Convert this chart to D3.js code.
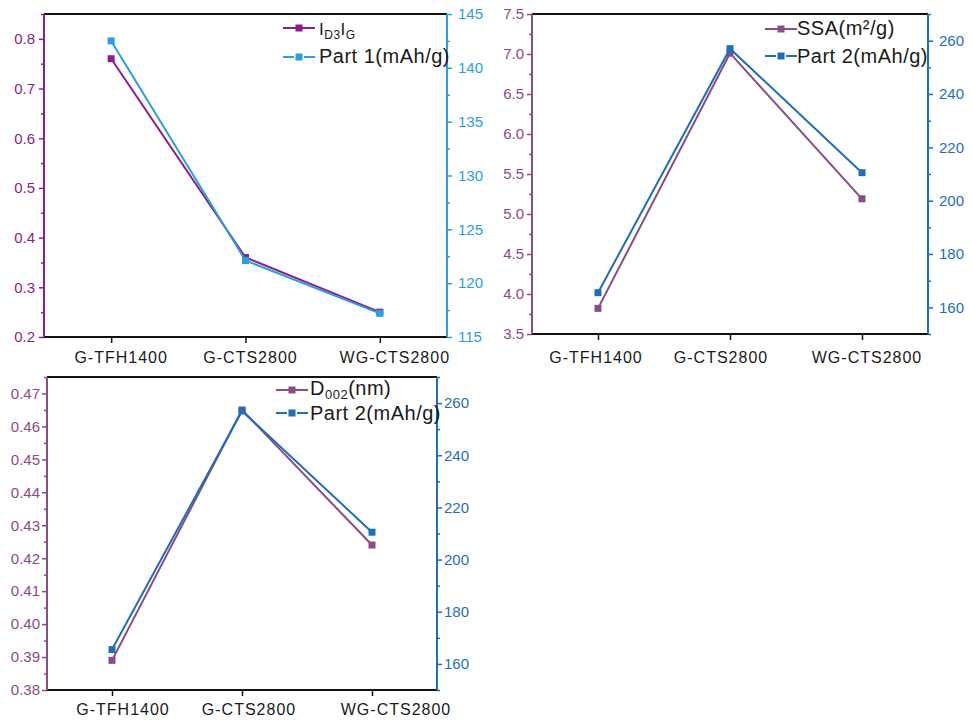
<!DOCTYPE html>
<html>
<head>
<meta charset="utf-8">
<script src="https://cdn.jsdelivr.net/npm/d3@7"></script>
<style>
  html, body { margin: 0; padding: 0; background: #fff; }
  svg { display: block; font-family: "Liberation Sans", Arial, sans-serif; }
</style>
</head>
<body>
<svg id="chart" width="972" height="723"></svg>
<script>
// ---------------- data ----------------
const categories = ["G-TFH1400", "G-CTS2800", "WG-CTS2800"];

const idIg  = [0.76, 0.36, 0.25];
const part1 = [142.5, 122.1, 117.2];

const ssa   = [3.82, 7.01, 5.19];
const part2 = [165.5, 257.0, 210.5];

const d002  = [0.389, 0.465, 0.424];

const leftTicks1  = [0.2, 0.3, 0.4, 0.5, 0.6, 0.7, 0.8];
const rightTicks1 = [115, 120, 125, 130, 135, 140, 145];
const leftTicks2  = [3.5, 4.0, 4.5, 5.0, 5.5, 6.0, 6.5, 7.0, 7.5];
const rightTicks2 = [160, 180, 200, 220, 240, 260];
const leftTicks3  = [0.38, 0.39, 0.40, 0.41, 0.42, 0.43, 0.44, 0.45, 0.46, 0.47];
const rightTicks3 = [160, 180, 200, 220, 240, 260];

// ---------------- panels ----------------
const panels = [
  {
    box: {left: 44, right: 447, top: 14, bottom: 337},
    leftDomain: [0.2, 0.85], rightDomain: [115, 145],
    leftTicks: leftTicks1, rightTicks: rightTicks1,
    leftMinorStep: 0.05, rightMinorStep: 2.5,
    leftFmt: d3.format(".1f"), rightFmt: d3.format("d"),
    leftSeries: idIg, rightSeries: part1,
    leftColor: "#8c1d8a", rightColor: "#2a9fdb",
    leftPad: 4, rightPad: 6,
    labelDx: [10, 5, 15], labelBaseline: 26,
    legend: {lineX: 283, textX: 319, y1: 28, y2: 57, base1: 35, base2: 63},
    leftLabel: [{t: "I", size: 17}, {t: "D3", size: 12, sub: true}, {t: "I", size: 17}, {t: "G", size: 12, sub: true}],
    rightLabel: "Part 1(mAh/g)"
  },
  {
    box: {left: 532, right: 928, top: 14, bottom: 334},
    leftDomain: [3.5, 7.5], rightDomain: [150, 270],
    leftTicks: leftTicks2, rightTicks: rightTicks2,
    leftMinorStep: 0.25, rightMinorStep: 10,
    leftFmt: d3.format(".1f"), rightFmt: d3.format("d"),
    leftSeries: ssa, rightSeries: part2,
    leftColor: "#8a4c85", rightColor: "#1f6eb6",
    leftPad: 3, rightPad: 6,
    labelDx: [-2, -9, 5], labelBaseline: 29,
    legend: {lineX: 765, textX: 797, y1: 29, y2: 56, base1: 35, base2: 63},
    leftLabel: [{t: "SSA(m²/g)", size: 20}],
    rightLabel: "Part 2(mAh/g)"
  },
  {
    box: {left: 47, right: 437, top: 377, bottom: 690},
    leftDomain: [0.38, 0.475], rightDomain: [150, 270],
    leftTicks: leftTicks3, rightTicks: rightTicks3,
    leftMinorStep: 0.005, rightMinorStep: 10,
    leftFmt: d3.format(".2f"), rightFmt: d3.format("d"),
    leftSeries: d002, rightSeries: part2,
    leftColor: "#8a4c85", rightColor: "#1f6eb6",
    leftPad: 2, rightPad: 2,
    labelDx: [11, 7, 24], labelBaseline: 25,
    legend: {lineX: 276, textX: 310, y1: 390, y2: 413, base1: 395, base2: 420},
    leftLabel: [{t: "D", size: 20}, {t: "002", size: 13, sub: true}, {t: "(nm)", size: 20}],
    rightLabel: "Part 2(mAh/g)"
  }
];

const svg = d3.select("#chart");

function minorValues(domain, step, majors) {
  const out = [];
  const n = Math.round((domain[1] - domain[0]) / step);
  for (let i = 0; i <= n; i++) {
    const v = +(domain[0] + i * step).toFixed(6);
    if (!majors.some(m => Math.abs(m - v) < step / 10)) out.push(v);
  }
  return out;
}

panels.forEach(p => {
  const b = p.box;
  const g = svg.append("g");

  const x = d3.scalePoint().domain(categories).range([b.left, b.right]).padding(0.5);
  const yL = d3.scaleLinear().domain(p.leftDomain).range([b.bottom, b.top]);
  const yR = d3.scaleLinear().domain(p.rightDomain).range([b.bottom, b.top]);

  // top frame line
  g.append("line")
    .attr("x1", b.left).attr("x2", b.right)
    .attr("y1", b.top).attr("y2", b.top)
    .attr("stroke", "#111").attr("stroke-width", 2);

  // bottom axis
  const xAxis = g.append("g").attr("transform", `translate(0,${b.bottom})`)
    .call(d3.axisBottom(x).tickSize(6).tickFormat(""));
  xAxis.select(".domain").attr("stroke", "#111").attr("stroke-width", 2)
    .attr("d", `M${b.left},0H${b.right}`);
  xAxis.selectAll(".tick line").attr("stroke", "#111").attr("stroke-width", 1.5);

  g.selectAll("text.xlab").data(categories).join("text")
    .attr("class", "xlab")
    .attr("x", (d, i) => x(d) + p.labelDx[i])
    .attr("y", b.bottom + p.labelBaseline)
    .attr("text-anchor", "middle")
    .attr("font-size", 16)
    .attr("letter-spacing", 1)
    .attr("fill", "#1a1a1a")
    .text(d => d);

  // left axis
  const la = g.append("g").attr("transform", `translate(${b.left},0)`)
    .call(d3.axisLeft(yL).tickValues(p.leftTicks).tickFormat(p.leftFmt).tickSize(5).tickPadding(p.leftPad));
  la.select(".domain").attr("stroke", p.leftColor).attr("stroke-width", 2)
    .attr("d", `M0,${b.top}V${b.bottom}`);
  la.selectAll(".tick line").attr("stroke", p.leftColor).attr("stroke-width", 1.5);
  la.selectAll(".tick text").attr("fill", p.leftColor).attr("font-size", 15)
    .attr("font-family", "Liberation Sans, Arial, sans-serif");
  const lm = g.append("g").attr("transform", `translate(${b.left},0)`)
    .call(d3.axisLeft(yL).tickValues(minorValues(p.leftDomain, p.leftMinorStep, p.leftTicks)).tickFormat("").tickSize(3));
  lm.select(".domain").remove();
  lm.selectAll(".tick line").attr("stroke", p.leftColor).attr("stroke-width", 1.5);

  // right axis
  const ra = g.append("g").attr("transform", `translate(${b.right},0)`)
    .call(d3.axisRight(yR).tickValues(p.rightTicks).tickFormat(p.rightFmt).tickSize(5).tickPadding(p.rightPad));
  ra.select(".domain").attr("stroke", p.rightColor).attr("stroke-width", 2)
    .attr("d", `M0,${b.top}V${b.bottom}`);
  ra.selectAll(".tick line").attr("stroke", p.rightColor).attr("stroke-width", 1.5);
  ra.selectAll(".tick text").attr("fill", p.rightColor).attr("font-size", 15)
    .attr("font-family", "Liberation Sans, Arial, sans-serif");
  const rm = g.append("g").attr("transform", `translate(${b.right},0)`)
    .call(d3.axisRight(yR).tickValues(minorValues(p.rightDomain, p.rightMinorStep, p.rightTicks)).tickFormat("").tickSize(3));
  rm.select(".domain").remove();
  rm.selectAll(".tick line").attr("stroke", p.rightColor).attr("stroke-width", 1.5);

  // series
  const drawSeries = (vals, yScale, color) => {
    const pts = vals.map((v, i) => [x(categories[i]), yScale(v)]);
    g.append("path").attr("d", d3.line()(pts))
      .attr("fill", "none").attr("stroke", color).attr("stroke-width", 2);
    g.selectAll(null).data(pts).join("rect")
      .attr("x", d => d[0] - 3.5).attr("y", d => d[1] - 3.5)
      .attr("width", 7).attr("height", 7).attr("fill", color);
  };
  drawSeries(p.leftSeries, yL, p.leftColor);
  drawSeries(p.rightSeries, yR, p.rightColor);

  // legend
  const L = p.legend;
  const lx0 = L.lineX, lx1 = L.lineX + 32, lxm = (lx0 + lx1) / 2;
  g.append("line").attr("x1", lx0).attr("x2", lx1).attr("y1", L.y1).attr("y2", L.y1)
    .attr("stroke", p.leftColor).attr("stroke-width", 2);
  g.append("rect").attr("x", lxm - 3.5).attr("y", L.y1 - 3.5).attr("width", 7).attr("height", 7)
    .attr("fill", p.leftColor);
  [[lx0, lxm - 5], [lxm + 5, lx1]].forEach(s => {
    g.append("line").attr("x1", s[0]).attr("x2", s[1]).attr("y1", L.y2).attr("y2", L.y2)
      .attr("stroke", p.rightColor).attr("stroke-width", 2);
  });
  g.append("rect").attr("x", lxm - 3.5).attr("y", L.y2 - 3.5).attr("width", 7).attr("height", 7)
    .attr("fill", p.rightColor);

  const t1 = g.append("text").attr("x", L.textX).attr("y", L.base1).attr("fill", "#1a1a1a")
    .attr("letter-spacing", 0.5);
  let prevSub = false;
  p.leftLabel.forEach(part => {
    const ts = t1.append("tspan").attr("font-size", part.size).text(part.t);
    if (part.sub && !prevSub) ts.attr("dy", 4);
    else if (!part.sub && prevSub) ts.attr("dy", -4);
    prevSub = !!part.sub;
  });
  g.append("text").attr("x", L.textX).attr("y", L.base2).attr("fill", "#1a1a1a")
    .attr("font-size", 20).attr("letter-spacing", 0.5).text(p.rightLabel);
});
</script>
</body>
</html>
